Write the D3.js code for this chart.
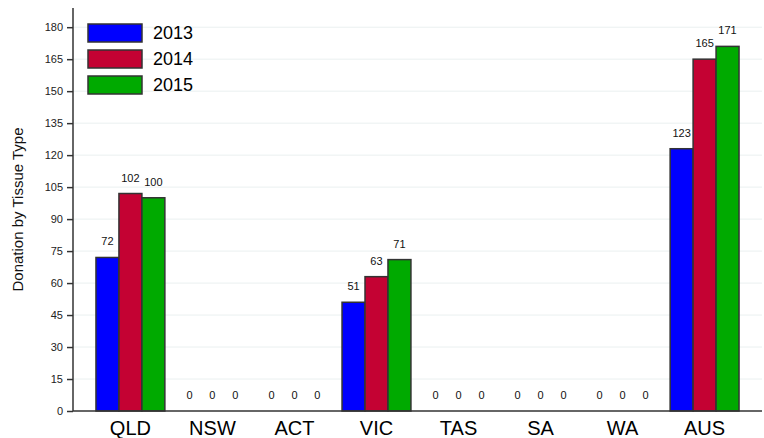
<!DOCTYPE html>
<html>
<head>
<meta charset="utf-8">
<script src="https://cdn.jsdelivr.net/npm/d3@7"></script>
<style>
  body { margin: 0; background: #fff; }
  text { font-family: "Liberation Sans", Arial, sans-serif; }
</style>
</head>
<body>
<svg width="764" height="438"></svg>
<script>
var states = ['QLD', 'NSW', 'ACT', 'VIC', 'TAS', 'SA', 'WA', 'AUS'];
var years = ['2013', '2014', '2015'];
var values2013 = [72, 0, 0, 51, 0, 0, 0, 123];
var values2014 = [102, 0, 0, 63, 0, 0, 0, 165];
var values2015 = [100, 0, 0, 71, 0, 0, 0, 171];
var yTicks = [0, 15, 30, 45, 60, 75, 90, 105, 120, 135, 150, 165, 180];

var yearColors = {'2013': '#0000ff', '2014': '#c40233', '2015': '#00aa00'};

var svg = d3.select('svg');
var padding = {t: 8, r: 2, b: 27, l: 73};
var chartWidth = +svg.attr('width') - padding.l - padding.r;
var chartHeight = +svg.attr('height') - padding.t - padding.b;

var chartG = svg.append('g')
    .attr('transform', 'translate(' + [padding.l, padding.t] + ')');

var series = years.map(function(y, i) {
  return {year: y, values: [values2013, values2014, values2015][i]};
});

var xScale = d3.scaleBand()
    .domain(states)
    .range([0, chartWidth])
    .paddingInner(0.16)
    .paddingOuter(0.28);

var x1 = d3.scaleBand()
    .domain(years)
    .range([0, xScale.bandwidth()]);

var yScale = d3.scaleLinear()
    .domain([0, 189])
    .range([chartHeight, 0]);

// grid lines
chartG.append('g')
    .selectAll('line')
    .data(yTicks.slice(1))
    .enter()
    .append('line')
    .attr('x1', 0)
    .attr('x2', chartWidth)
    .attr('y1', function(d) { return yScale(d); })
    .attr('y2', function(d) { return yScale(d); })
    .attr('stroke', '#eaf0f0')
    .attr('stroke-width', 1);

// bars
var groups = chartG.selectAll('g.state')
    .data(states)
    .enter()
    .append('g')
    .attr('class', 'state')
    .attr('transform', function(d) { return 'translate(' + xScale(d) + ',0)'; });

groups.selectAll('rect')
    .data(function(d, i) {
      return series.map(function(s) { return {year: s.year, value: s.values[i]}; });
    })
    .enter()
    .append('rect')
    .filter(function(d) { return d.value > 0; })
    .attr('x', function(d) { return x1(d.year); })
    .attr('y', function(d) { return yScale(d.value); })
    .attr('width', x1.bandwidth())
    .attr('height', function(d) { return chartHeight - yScale(d.value); })
    .attr('fill', function(d) { return yearColors[d.year]; })
    .attr('stroke', '#333')
    .attr('stroke-width', 1.5);

groups.selectAll('text.value')
    .data(function(d, i) {
      return series.map(function(s) { return {year: s.year, value: s.values[i]}; });
    })
    .enter()
    .append('text')
    .attr('class', 'value')
    .attr('x', function(d) { return x1(d.year) + x1.bandwidth() / 2; })
    .attr('y', function(d) { return yScale(d.value) - 12; })
    .attr('text-anchor', 'middle')
    .style('font-size', '11px')
    .style('fill', '#111')
    .text(function(d) { return d.value; });

// axes
var yAxis = d3.axisLeft(yScale).tickValues(yTicks).tickSize(6).tickPadding(4);
var yG = chartG.append('g').attr('class', 'y-axis').call(yAxis);
yG.select('.domain').remove();
yG.selectAll('line').attr('stroke', '#333').attr('stroke-width', 1.5);
yG.selectAll('text').style('font-size', '11px').style('fill', '#222')
    .style('font-family', '"Liberation Sans", Arial, sans-serif');

chartG.append('line')
    .attr('x1', 0).attr('x2', 0)
    .attr('y1', 0).attr('y2', chartHeight)
    .attr('stroke', '#333').attr('stroke-width', 1.5);

chartG.append('line')
    .attr('x1', 0).attr('x2', chartWidth)
    .attr('y1', chartHeight).attr('y2', chartHeight)
    .attr('stroke', '#333').attr('stroke-width', 1.5);

var xG = chartG.append('g')
    .attr('transform', 'translate(0,' + chartHeight + ')')
    .call(d3.axisBottom(xScale).tickSize(0).tickPadding(0));
xG.select('.domain').remove();
xG.selectAll('text')
    .attr('y', 24)
    .attr('dy', null)
    .style('font-size', '20px').style('fill', '#000')
    .style('font-family', '"Liberation Sans", Arial, sans-serif');

svg.append('text')
    .attr('transform', 'translate(23,209.5) rotate(-90)')
    .attr('text-anchor', 'middle')
    .style('font-size', '15px')
    .style('fill', '#111')
    .text('Donation by Tissue Type');

// legend
var legend = svg.append('g')
    .attr('transform', 'translate(88,24)');

var legendItems = legend.selectAll('g')
    .data(years)
    .enter()
    .append('g')
    .attr('transform', function(d, i) { return 'translate(0,' + (i * 26) + ')'; });

legendItems.append('rect')
    .attr('width', 54)
    .attr('height', 18)
    .attr('fill', function(d) { return yearColors[d]; })
    .attr('stroke', '#333')
    .attr('stroke-width', 1.5);

legendItems.append('text')
    .attr('x', 65)
    .attr('y', 9)
    .attr('dy', '0.36em')
    .style('font-size', '18px')
    .style('fill', '#000')
    .text(function(d) { return d; });
</script>
</body>
</html>
